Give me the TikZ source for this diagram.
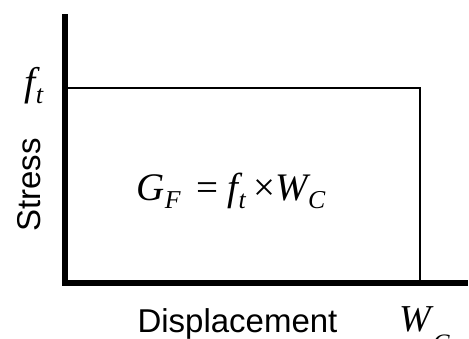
\documentclass[tikz,border=0pt]{standalone}
\usepackage{fontspec}
\setmainfont{Liberation Sans}
\newfontfamily\tms{Liberation Serif}
% letter with lowered subscript, in current font size
\newcommand\ltsub[2]{#1\raisebox{-0.22em}{\fontsize{0.66em}{0.66em}\selectfont #2}}
\newcommand\deepsub[2]{#1\kern0.05em\raisebox{-0.53em}{\fontsize{0.66em}{0.66em}\selectfont #2}}
\tikzset{
  axisline/.style={line width=6pt, line join=miter},
  curveline/.style={line width=2pt},
  axislabel/.style={font=\fontsize{33}{36}\selectfont, inner sep=0pt},
  symlabel/.style={font=\fontsize{40}{44}\selectfont\tms\itshape, inner sep=0pt},
  formula/.style={font=\fontsize{39}{42}\selectfont\tms\itshape, inner sep=0pt}
}
\begin{document}
\begin{tikzpicture}[x=1pt,y=-1pt]
\useasboundingbox (0,0) rectangle (469,338);
\coordinate (top) at (64.5,14);
\coordinate (origin) at (64.5,283);
\coordinate (xend) at (468,283);
\coordinate (ft) at (64.5,88);
\coordinate (tr) at (420,88);
\coordinate (wc) at (420,283);
\draw[curveline] (ft) -- (tr) -- (wc);
\draw[axisline] (top) -- (origin) -- (xend);
\node[symlabel, anchor=base] (ftlab) at (34,95) {\ltsub{f}{t}};
\node[symlabel, font=\fontsize{38}{42}\selectfont\tms\itshape, anchor=base west] (wclab) at (399,331) {\deepsub{W}{C}};
\node[formula, anchor=base] (gf) at (231,200) {\ltsub{G}{F}\kern0.4em\textup{=}\kern0.25em\ltsub{f}{t}\kern0.2em\textup{×}\ltsub{W}{C}};
\node[axislabel, anchor=base, rotate=90] (stress) at (41,185) {Stress};
\node[axislabel, anchor=base] (disp) at (237.5,332) {Displacement};
\end{tikzpicture}
\end{document}
